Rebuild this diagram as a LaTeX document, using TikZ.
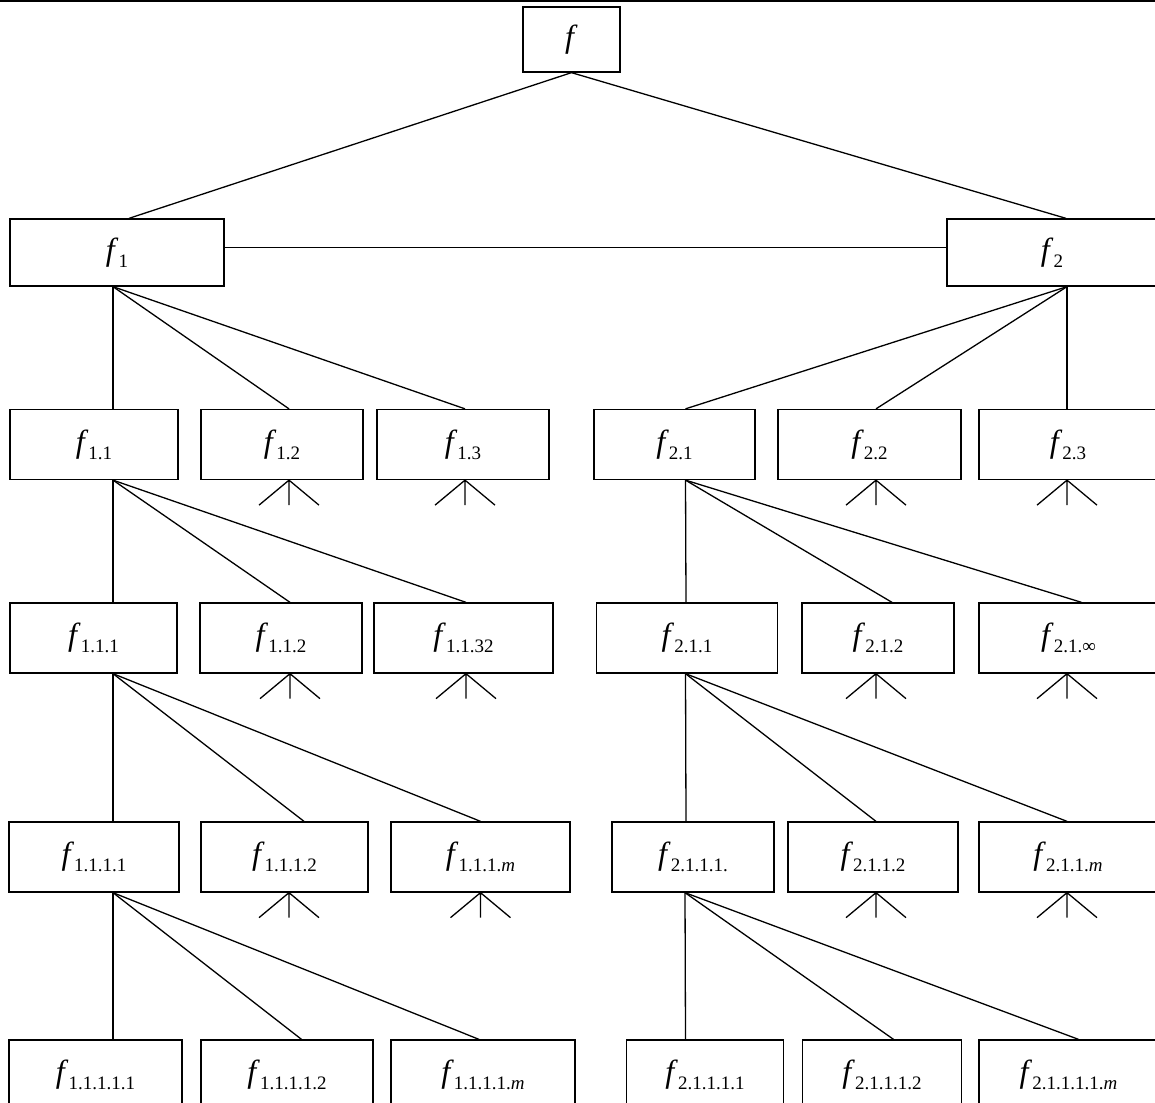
\documentclass[tikz,border=0pt]{standalone}
\usepackage{fontspec}
\setmainfont{Liberation Serif}
\usepackage{tikz}
\usetikzlibrary{calc}

\newcommand{\fsub}[1]{\textit{f}\raisebox{-7pt}{\fontsize{19}{19}\selectfont #1}}

\tikzset{
  fbox/.style={draw, line width=1.3pt, minimum height=70pt, inner sep=0pt, font=\fontsize{32}{36}\selectfont},
  link/.style={line width=1.3pt},
  fork/.pic={\draw[link] (0,0) -- (0,25) (0,0) -- (-30,25) (0,0) -- (30,25);}
}

\begin{document}
\begin{tikzpicture}[x=1pt, y=-1pt]
  \clip (0,0) rectangle (1155,1102);
  \draw[link] (0,1) -- (1155,1);

  % root and first split
  \node[fbox, minimum width=97pt, minimum height=65pt] (f) at (571.5, 39.5) {\textit{f}};
  \node[fbox, minimum width=214pt, minimum height=67pt] (f1) at (117, 252.5) {\fsub{1}};
  \node[fbox, minimum width=210pt, minimum height=67pt] (f2) at (1052, 252.5) {\fsub{2}};

  % level 2
  \node[fbox, minimum width=168pt] (f11) at (94, 444.5) {\fsub{1.1}};
  \node[fbox, minimum width=162pt] (f12) at (282, 444.5) {\fsub{1.2}};
  \node[fbox, minimum width=172pt] (f13) at (463, 444.5) {\fsub{1.3}};
  \node[fbox, minimum width=161pt] (f21) at (674.5, 444.5) {\fsub{2.1}};
  \node[fbox, minimum width=183pt] (f22) at (869.5, 444.5) {\fsub{2.2}};
  \node[fbox, minimum width=178pt] (f23) at (1068, 444.5) {\fsub{2.3}};

  % level 3
  \node[fbox, minimum width=167pt] (f111) at (93.5, 638) {\fsub{1.1.1}};
  \node[fbox, minimum width=162pt] (f112) at (281, 638) {\fsub{1.1.2}};
  \node[fbox, minimum width=179pt] (f1132) at (463.5, 638) {\fsub{1.1.32}};
  \node[fbox, minimum width=181pt] (f211) at (687, 638) {\fsub{2.1.1}};
  \node[fbox, minimum width=152pt] (f212) at (878, 638) {\fsub{2.1.2}};
  \node[fbox, minimum width=179pt] (f21inf) at (1068.5, 638) {\fsub{2.1.∞}};

  % level 4
  \node[fbox, minimum width=170pt] (f1111) at (94, 857) {\fsub{1.1.1.1}};
  \node[fbox, minimum width=167pt] (f1112) at (284.5, 857) {\fsub{1.1.1.2}};
  \node[fbox, minimum width=179pt] (f111m) at (480.5, 857) {\fsub{1.1.1.\textit{m}}};
  \node[fbox, minimum width=162pt] (f2111) at (693, 857) {\fsub{2.1.1.1.}};
  \node[fbox, minimum width=170pt] (f2112) at (873, 857) {\fsub{2.1.1.2}};
  \node[fbox, minimum width=178pt] (f211m) at (1068, 857) {\fsub{2.1.1.\textit{m}}};

  % level 5
  \node[fbox, minimum width=173pt] (f11111) at (95.5, 1075) {\fsub{1.1.1.1.1}};
  \node[fbox, minimum width=172pt] (f11112) at (287, 1075) {\fsub{1.1.1.1.2}};
  \node[fbox, minimum width=184pt] (f1111m) at (483, 1075) {\fsub{1.1.1.1.\textit{m}}};
  \node[fbox, minimum width=157pt] (f21111) at (705, 1075) {\fsub{2.1.1.1.1}};
  \node[fbox, minimum width=159pt] (f21112) at (882, 1075) {\fsub{2.1.1.1.2}};
  \node[fbox, minimum width=179pt] (f2111m) at (1068.5, 1075) {\fsub{2.1.1.1.1.\textit{m}}};

  % links
  \draw[link] (f.south) -- ([xshift=12pt]f1.north);
  \draw[link] (f.south) -- ([xshift=14pt]f2.north);
  \draw[link] ([yshift=5pt]f1.east) -- ([yshift=5pt]f2.west);

  \draw[link] ([xshift=-4pt]f1.south) -- ([xshift=19pt]f11.north);
  \draw[link] ([xshift=-4pt]f1.south) -- ([xshift=7pt]f12.north);
  \draw[link] ([xshift=-4pt]f1.south) -- ([xshift=2pt]f13.north);
  \draw[link] ([xshift=15pt]f2.south) -- ([xshift=11pt]f21.north);
  \draw[link] ([xshift=15pt]f2.south) -- ([xshift=6.5pt]f22.north);
  \draw[link] ([xshift=15pt]f2.south) -- ([xshift=-1pt]f23.north);

  \draw[link] ([xshift=19pt]f11.south) -- ([xshift=19.5pt]f111.north);
  \draw[link] ([xshift=19pt]f11.south) -- ([xshift=9pt]f112.north);
  \draw[link] ([xshift=19pt]f11.south) -- ([xshift=2.5pt]f1132.north);
  \draw[link] ([xshift=11pt]f21.south) -- ([xshift=-1pt]f211.north);
  \draw[link] ([xshift=11pt]f21.south) -- ([xshift=14pt]f212.north);
  \draw[link] ([xshift=11pt]f21.south) -- ([xshift=13pt]f21inf.north);

  \draw[link] ([xshift=19.5pt]f111.south) -- ([xshift=19pt]f1111.north);
  \draw[link] ([xshift=19.5pt]f111.south) -- ([xshift=19.5pt]f1112.north);
  \draw[link] ([xshift=19.5pt]f111.south) -- (f111m.north);
  \draw[link] ([xshift=-1.5pt]f211.south) -- ([xshift=-7pt]f2111.north);
  \draw[link] ([xshift=-1.5pt]f211.south) -- ([xshift=3pt]f2112.north);
  \draw[link] ([xshift=-1.5pt]f211.south) -- ([xshift=-1pt]f211m.north);

  \draw[link] ([xshift=19pt]f1111.south) -- ([xshift=17.5pt]f11111.north);
  \draw[link] ([xshift=19pt]f1111.south) -- ([xshift=14.5pt]f11112.north);
  \draw[link] ([xshift=19pt]f1111.south) -- ([xshift=-4pt]f1111m.north);
  \draw[link] ([xshift=-8pt]f2111.south) -- ([xshift=-19.5pt]f21111.north);
  \draw[link] ([xshift=-8pt]f2111.south) -- ([xshift=11.5pt]f21112.north);
  \draw[link] ([xshift=-8pt]f2111.south) -- ([xshift=10pt]f2111m.north);

  % open branches
  \pic at ([xshift=7pt]f12.south) {fork};
  \pic at ([xshift=2pt]f13.south) {fork};
  \pic at ([xshift=6.5pt]f22.south) {fork};
  \pic at ([xshift=-1pt]f23.south) {fork};
  \pic at ([xshift=9pt]f112.south) {fork};
  \pic at ([xshift=2.5pt]f1132.south) {fork};
  \pic at ([xshift=-2pt]f212.south) {fork};
  \pic at ([xshift=-1.5pt]f21inf.south) {fork};
  \pic at ([xshift=4.5pt]f1112.south) {fork};
  \pic at (f111m.south) {fork};
  \pic at ([xshift=3pt]f2112.south) {fork};
  \pic at ([xshift=-1pt]f211m.south) {fork};
\end{tikzpicture}
\end{document}
